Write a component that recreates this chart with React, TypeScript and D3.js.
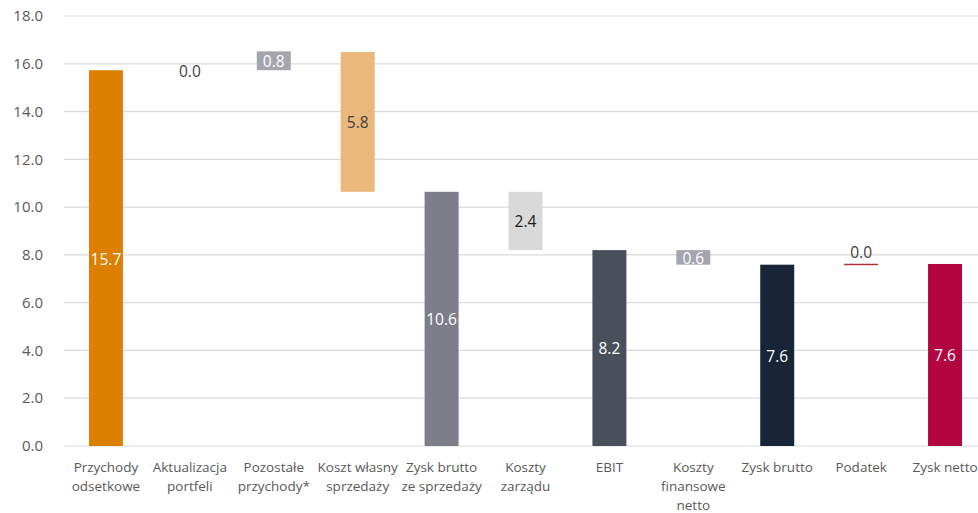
import React from "react";
import * as d3 from "d3";

const categories: string[][] = [
  ["Przychody", "odsetkowe"],
  ["Aktualizacja", "portfeli"],
  ["Pozostałe", "przychody*"],
  ["Koszt własny", "sprzedaży"],
  ["Zysk brutto", "ze sprzedaży"],
  ["Koszty", "zarządu"],
  ["EBIT"],
  ["Koszty", "finansowe", "netto"],
  ["Zysk brutto"],
  ["Podatek"],
  ["Zysk netto"],
];
const starts: number[] = [0, 15.73, 15.73, 10.64, 0, 8.2, 0, 7.59, 0, 7.6, 0];
const values: number[] = [15.73, 0.0, 0.79, 5.85, 10.64, 2.44, 8.2, 0.61, 7.59, 0.0, 7.62];
const yTicks: number[] = [0, 2, 4, 6, 8, 10, 12, 14, 16, 18];

const barColors = ["#DD8000", "none", "#A5A5AE", "#EBB87B", "#7E7E8A", "#D9D9D9", "#4A4F5C", "#A5A5AE", "#172536", "#B03030", "#B30640"];
const labelColors = ["#FFFFFF", "#404040", "#FFFFFF", "#404040", "#FFFFFF", "#1A1A1A", "#FFFFFF", "#FFFFFF", "#FFFFFF", "#404040", "#FFFFFF"];
const labelAbove = [false, false, false, false, false, false, false, false, false, true, false];

const W = 978;
const H = 513;
const left = 64;
const right = 987;
const gridRight = 978;
const top = 16;
const bottom = 446;
const FONT = "'Open Sans', 'Noto Sans', sans-serif";

export default function App() {
  const x = d3
    .scaleBand<number>()
    .domain(d3.range(categories.length))
    .range([left, right])
    .paddingInner(0.595)
    .paddingOuter(0.2975);
  const y = d3.scaleLinear().domain([0, 18]).range([bottom, top]);
  const fmt = d3.format(".1f");

  return (
    <svg width={W} height={H} style={{ position: "absolute", left: 0, top: 0, background: "#fff" }}>
      {yTicks.map((t) => (
        <g key={t}>
          <line x1={left} x2={gridRight} y1={y(t)} y2={y(t)} stroke="#D9D9D9" strokeWidth={1.2} />
          <text x={43} y={y(t)} dy="0.35em" textAnchor="end" fontFamily={FONT} fontSize={15} fill="#595959">
            {fmt(t)}
          </text>
        </g>
      ))}
      {values.map((v, i) => {
        const x0 = x(i)!;
        const bw = x.bandwidth();
        const yTop = y(starts[i] + v);
        const yBot = y(starts[i]);
        const h = Math.max(0, yBot - yTop);
        const cx = x0 + bw / 2;
        const cy = labelAbove[i] ? yTop - 12 : (yTop + yBot) / 2 + 1;
        return (
          <g key={i}>
            {barColors[i] !== "none" && (
              h > 0.5 ? (
                <rect x={x0} y={yTop} width={bw} height={h} fill={barColors[i]} />
              ) : (
                <line x1={x0} x2={x0 + bw} y1={yTop} y2={yTop} stroke={barColors[i]} strokeWidth={1.5} />
              )
            )}
            <text x={cx} y={cy} dy="0.35em" textAnchor="middle" fontFamily={FONT} fontSize={15.5} fill={labelColors[i]}>
              {fmt(v)}
            </text>
          </g>
        );
      })}
      {categories.map((lines, i) => (
        <text key={i} x={x(i)! + x.bandwidth() / 2} y={467} textAnchor="middle" fontFamily={FONT} fontSize={13.5} fill="#595959">
          {lines.map((l, j) => (
            <tspan key={j} x={x(i)! + x.bandwidth() / 2} dy={j === 0 ? "0.35em" : 19}>
              {l}
            </tspan>
          ))}
        </text>
      ))}
    </svg>
  );
}
